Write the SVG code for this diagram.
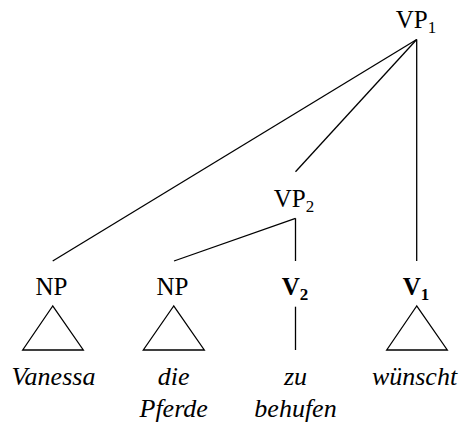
<svg xmlns="http://www.w3.org/2000/svg" width="466" height="430" viewBox="0 0 466 430">
<style>
  .lbl { font-family: 'Liberation Serif', 'DejaVu Serif', serif; font-size: 25px; fill: #000; text-anchor: middle; }
  .bold { font-weight: bold; }
  .sub { font-size: 17px; }
  .word { font-family: 'Liberation Serif', 'DejaVu Serif', serif; font-size: 26px; font-style: italic; fill: #000; text-anchor: middle; }
  .edge { stroke: #000; stroke-width: 1.3; fill: none; }
  .tri { stroke: #000; stroke-width: 1.3; fill: none; stroke-linejoin: miter; }
</style>
<rect width="466" height="430" fill="#fff"/>
<g id="connectors">
  <line class="edge" x1="416.7" y1="39.5" x2="52.7" y2="261"/>
  <line class="edge" x1="416.7" y1="39.5" x2="295.5" y2="171.7"/>
  <line class="edge" x1="416.7" y1="39.5" x2="416.7" y2="261"/>
  <line class="edge" x1="295.5" y1="218.3" x2="174" y2="261"/>
  <line class="edge" x1="295.5" y1="218.3" x2="295.5" y2="261"/>
</g>
<g id="VP1">
  <text class="lbl" x="416" y="28">VP<tspan class="sub" dy="5">1</tspan></text>
</g>
<g id="VP2">
  <text class="lbl" x="294" y="206.7">VP<tspan class="sub" dy="5">2</tspan></text>
</g>
<g id="NP1">
  <text class="lbl" x="51.5" y="295">NP</text>
  <polygon class="tri" points="52.7,306 22.7,350 83.3,350"/>
  <text class="word" x="53.5" y="385">Vanessa</text>
</g>
<g id="NP2">
  <text class="lbl" x="172.5" y="295">NP</text>
  <polygon class="tri" points="173.7,306 143.3,350 204.3,350"/>
  <text class="word" x="173.7" y="385">die</text>
  <text class="word" x="173.7" y="417">Pferde</text>
</g>
<g id="V2">
  <text class="lbl bold" x="295" y="295">V<tspan class="sub" dy="5">2</tspan></text>
  <line class="edge" x1="295.5" y1="306.7" x2="295.5" y2="350"/>
  <text class="word" x="295.5" y="385">zu</text>
  <text class="word" x="295.5" y="417">behufen</text>
</g>
<g id="V1">
  <text class="lbl bold" x="416" y="295">V<tspan class="sub" dy="5">1</tspan></text>
  <polygon class="tri" points="416.7,306 386.7,350 447.3,350"/>
  <text class="word" x="414.5" y="385">wünscht</text>
</g>
</svg>
